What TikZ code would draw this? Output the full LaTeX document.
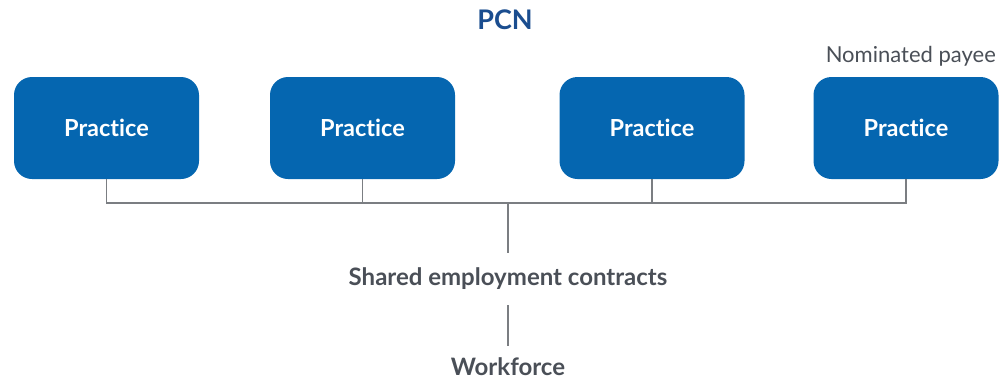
\documentclass[tikz,border=0pt]{standalone}
\usepackage{fontspec}
\setmainfont{Lato}[Ligatures=NoCommon]
\definecolor{boxblue}{HTML}{0566B0}
\definecolor{titleblue}{HTML}{1A4D8F}
\definecolor{txtgray}{HTML}{4A4F57}
\definecolor{linegray}{HTML}{7B7E82}
\begin{document}
\begin{tikzpicture}[x=1pt,y=-1pt,
  practicebox/.style={draw=none,fill=boxblue,rounded corners=18pt,minimum width=185pt,minimum height=102pt,text=white,font=\fontsize{23.5}{28}\selectfont\bfseries,inner sep=0pt},
  lbl/.style={text=txtgray,font=\fontsize{24}{28}\selectfont\bfseries,inner sep=0pt},
  conn/.style={draw=linegray,line width=1.8pt}]
\useasboundingbox (0,0) rectangle (1002,381);
\node[text=titleblue,font=\fontsize{27}{32}\selectfont\bfseries,inner sep=0pt] (pcn) at (505,20) {PCN};
\node[practicebox] (p1) at (106.5,128) {Practice};
\node[practicebox] (p2) at (362.5,128) {Practice};
\node[practicebox] (p3) at (652,128) {Practice};
\node[practicebox] (p4) at (906,128) {Practice};
\node[text=txtgray,font=\fontsize{22}{26}\selectfont,inner sep=0pt,anchor=east] (nom) at (996,56) {Nominated payee};
\node[lbl] (sec) at (508,279) {Shared employment contracts};
\node[lbl] (wf) at (508,367) {Workforce};
\coordinate (hb) at (508,203);
\draw[conn] (p1.south) |- (hb);
\draw[conn] (p4.south) |- (hb);
\draw[conn] (p2.south) -- (p2.south |- hb);
\draw[conn] (p3.south) -- (p3.south |- hb);
\draw[conn] (hb) -- (508,253);
\draw[conn] (508,305) -- (508,346);
\end{tikzpicture}
\end{document}
